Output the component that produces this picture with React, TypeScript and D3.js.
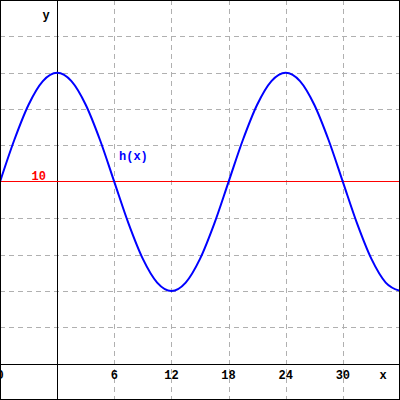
import React from "react";
import * as d3 from "d3";

const W = 400;
const H = 400;

// x domain and y domain of the view
const xDomain: [number, number] = [-6, 36];
const yDomain: [number, number] = [4, 15];

// grid / ticks
const xGrid = [6, 12, 18, 24, 30];
const xTickLabels = ["6", "12", "18", "24", "30"];
const yGrid = [5, 6, 7, 8, 9, 11, 12, 13, 14];
const midline = 10;
const midlineLabel = "10";

// h(x) at every 1.5 units
const hx = [
  -6, -4.5, -3, -1.5, 0, 1.5, 3, 4.5, 6, 7.5, 9, 10.5, 12, 13.5, 15, 16.5, 18,
  19.5, 21, 22.5, 24, 25.5, 27, 28.5, 30, 31.5, 33, 34.5, 36,
];
const hy = [
  10, 11.15, 12.12, 12.77, 13, 12.77, 12.12, 11.15, 10, 8.85, 7.88, 7.23, 7,
  7.23, 7.88, 8.85, 10, 11.15, 12.12, 12.77, 13, 12.77, 12.12, 11.15, 10, 8.85,
  7.88, 7.23, 7,
];

export default function App() {
  const x = d3.scaleLinear().domain(xDomain).range([0, W]);
  const y = d3.scaleLinear().domain(yDomain).range([H, 0]);
  const pts: [number, number][] = hx.map((v, i) => [v, hy[i]]);
  const line = d3
    .line<[number, number]>()
    .x((d) => x(d[0]))
    .y((d) => y(d[1]))
    .curve(d3.curveMonotoneX);
  const font = "'Liberation Mono', 'DejaVu Sans Mono', monospace";
  const x0 = Math.round(x(0)) + 0.5;
  const yAxis = Math.round(y(5)) + 0.5;
  const yMid = Math.round(y(midline)) - 0.5;
  return (
    <svg
      width={W}
      height={H}
      style={{ position: "fixed", top: 0, left: 0, background: "#fff" }}
    >
      <rect x={0} y={0} width={W} height={H} fill="#fff" />
      {xGrid.map((g) => (
        <line
          key={"xg" + g}
          x1={Math.round(x(g)) + 0.5}
          x2={Math.round(x(g)) + 0.5}
          y1={0}
          y2={H}
          stroke="#b0b0b0"
          strokeDasharray="5,4"
        />
      ))}
      {yGrid.map((g) => (
        <line
          key={"yg" + g}
          x1={0}
          x2={W}
          y1={Math.round(y(g)) + 0.5}
          y2={Math.round(y(g)) + 0.5}
          stroke="#b0b0b0"
          strokeDasharray="5,4"
        />
      ))}
      {/* axes */}
      <line x1={x0} x2={x0} y1={0} y2={H} stroke="#000" />
      <line x1={0} x2={W} y1={yAxis} y2={yAxis} stroke="#000" />
      <line x1={0} x2={W} y1={yMid} y2={yMid} stroke="#ff0000" />
      {/* curve */}
      <path d={line(pts) || ""} fill="none" stroke="#0000ff" strokeWidth={2} />
      {/* labels */}
      <g fontFamily={font} fontWeight="bold" fontSize={12}>
        {xGrid.map((g, i) => (
          <text key={"xl" + g} x={x(g)} y={yAxis + 14} textAnchor="middle" fill="#000">
            {xTickLabels[i]}
          </text>
        ))}
        <text x={x(-6)} y={yAxis + 14} textAnchor="middle" fill="#000">0</text>
        <text x={383} y={yAxis + 14} textAnchor="middle" fill="#000">x</text>
        <text x={46} y={19} textAnchor="middle" fill="#000">y</text>
        <text x={46} y={yMid - 2} textAnchor="end" fill="#ff0000">{midlineLabel}</text>
        <text x={119} y={160} fill="#0000ff">h(x)</text>
      </g>
      <rect x={0.5} y={0.5} width={W - 1} height={H - 1} fill="none" stroke="#000" />
    </svg>
  );
}
